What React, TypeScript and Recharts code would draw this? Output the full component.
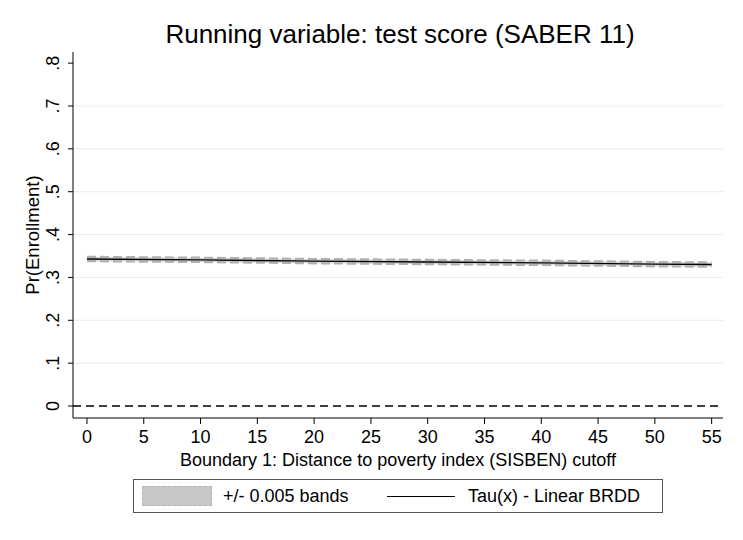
import React from "react";
import {
  Area,
  ComposedChart,
  Line,
  ReferenceLine,
  XAxis,
  YAxis,
} from "recharts";

// distance to cutoff
const distance = [0, 10, 20, 30, 40, 50, 55];
const tauLinear = [0.343, 0.341, 0.338, 0.336, 0.334, 0.331, 0.33];
const bandLow = [0.338, 0.336, 0.333, 0.331, 0.329, 0.326, 0.325];
const bandHigh = [0.348, 0.346, 0.343, 0.341, 0.339, 0.336, 0.335];

const xTicks = [0, 5, 10, 15, 20, 25, 30, 35, 40, 45, 50, 55];
const yTicks = [0, 0.1, 0.2, 0.3, 0.4, 0.5, 0.6, 0.7, 0.8];
const yTickLabels = ["0", ".1", ".2", ".3", ".4", ".5", ".6", ".7", ".8"];
const gridValues = [0.1, 0.2, 0.3, 0.4, 0.5, 0.6, 0.7];

const data = distance.map((d, i) => ({
  d,
  tau: tauLinear[i],
  band: [bandLow[i], bandHigh[i]],
}));

const FONT = '"Liberation Sans", Arial, Helvetica, sans-serif';

function YTick({ x, y, payload }: any) {
  const i = yTicks.indexOf(payload.value);
  const cx = x - 13;
  return (
    <text
      x={cx}
      y={y}
      textAnchor="middle"
      dominantBaseline="central"
      fontSize={18}
      fill="#000"
      fontFamily={FONT}
      transform={`rotate(-90, ${cx}, ${y})`}
    >
      {i >= 0 ? yTickLabels[i] : payload.value}
    </text>
  );
}

function YLabel({ viewBox }: any) {
  const cy = viewBox.y + viewBox.height / 2;
  return (
    <text
      x={32}
      y={cy}
      textAnchor="middle"
      dominantBaseline="central"
      fontSize={18.5}
      fill="#000"
      fontFamily={FONT}
      transform={`rotate(-90, 32, ${cy})`}
    >
      Pr(Enrollment)
    </text>
  );
}

export default function App() {
  return (
    <div
      style={{
        position: "absolute",
        left: 0,
        top: 0,
        width: 743,
        height: 540,
        background: "#fff",
        fontFamily: FONT,
        color: "#000",
        whiteSpace: "nowrap",
      }}
    >
      <div
        style={{
          position: "absolute",
          left: 0,
          width: 800,
          top: 19,
          textAlign: "center",
          fontSize: 26,
          lineHeight: "30px",
        }}
      >
        Running variable: test score (SABER 11)
      </div>

      <ComposedChart
        width={743}
        height={540}
        data={data}
        margin={{ top: 52, right: 20, left: 0, bottom: 0 }}
        style={{ position: "absolute", left: 0, top: 0 }}
      >
        {gridValues.map((v) => (
          <ReferenceLine key={v} y={v} stroke="#e4eef0" strokeWidth={1} />
        ))}
        <XAxis
          dataKey="d"
          type="number"
          domain={[-1.23, 56]}
          ticks={xTicks}
          height={122}
          tickSize={6}
          tickMargin={6}
          axisLine={{ stroke: "#000" }}
          tickLine={{ stroke: "#000" }}
          tick={{ fontSize: 18, fill: "#000", fontFamily: FONT }}
          allowDataOverflow
        />
        <YAxis
          type="number"
          domain={[-0.028, 0.826]}
          ticks={yTicks}
          width={73}
          tickSize={5}
          tickMargin={2}
          axisLine={{ stroke: "#000" }}
          tickLine={{ stroke: "#000" }}
          tick={<YTick />}
          label={<YLabel />}
          allowDataOverflow
        />
        <ReferenceLine y={0} stroke="#000" strokeDasharray="8 5" strokeWidth={1.3} />
        <Area
          dataKey="band"
          type="linear"
          fill="#d0d0d0"
          fillOpacity={0.85}
          stroke="#b0b0b0"
          strokeWidth={2.2}
          strokeDasharray="9 4"
          isAnimationActive={false}
          dot={false}
          activeDot={false}
        />
        <Line
          dataKey="tau"
          type="linear"
          stroke="#000"
          strokeWidth={1.4}
          dot={false}
          activeDot={false}
          isAnimationActive={false}
        />
      </ComposedChart>

      <div
        style={{
          position: "absolute",
          left: 0,
          width: 796,
          top: 449,
          textAlign: "center",
          fontSize: 18,
          lineHeight: "22px",
        }}
      >
        Boundary 1: Distance to poverty index (SISBEN) cutoff
      </div>

      <div
        style={{
          position: "absolute",
          left: 133,
          top: 479,
          width: 530,
          height: 34,
          border: "1px solid #555",
          boxSizing: "border-box",
          fontSize: 18,
        }}
      >
        <div
          style={{
            position: "absolute",
            left: 8,
            top: 6,
            width: 70,
            height: 20,
            background: "#c8c8c8",
            border: "1.5px dashed #b4b4b4",
            boxSizing: "border-box",
          }}
        />
        <div style={{ position: "absolute", left: 89, top: 5, lineHeight: "22px" }}>
          +/- 0.005 bands
        </div>
        <div
          style={{
            position: "absolute",
            left: 253,
            top: 16,
            width: 68,
            height: 0,
            borderTop: "1.3px solid #000",
          }}
        />
        <div style={{ position: "absolute", left: 334, top: 5, lineHeight: "22px" }}>
          Tau(x) - Linear BRDD
        </div>
      </div>
    </div>
  );
}
